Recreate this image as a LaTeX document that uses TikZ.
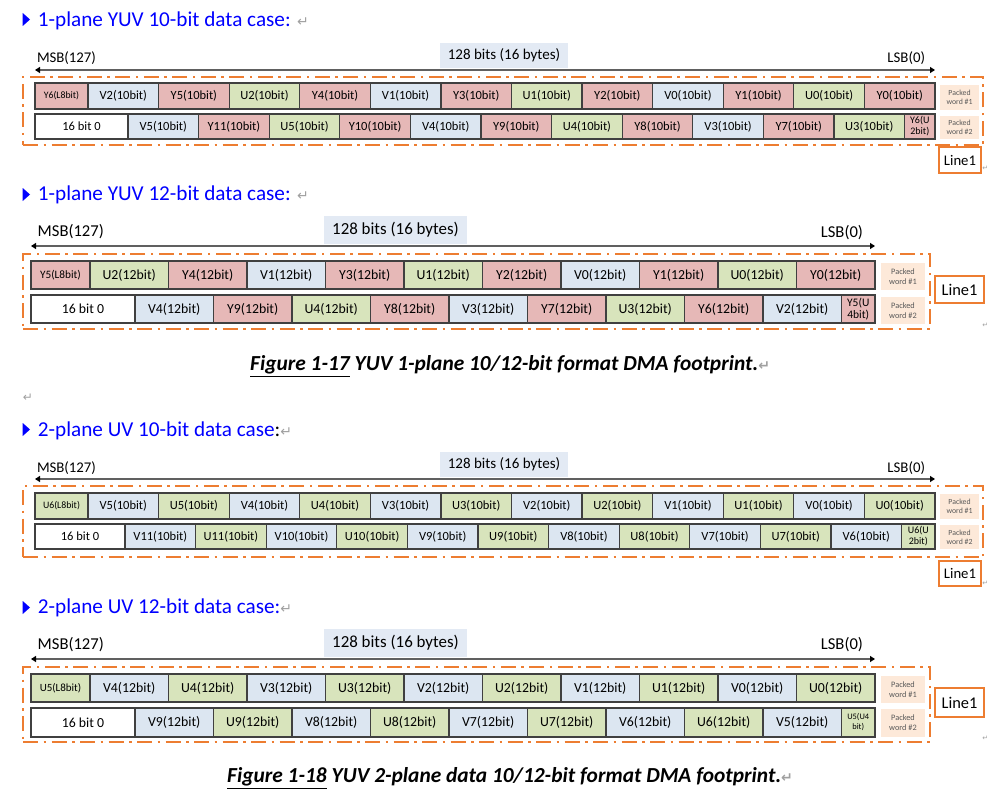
\documentclass[tikz,border=0pt]{standalone}
\usepackage{fontspec}
\setmainfont{Carlito}
\newfontfamily\dejavu{DejaVu Sans}
\usetikzlibrary{arrows.meta}
\definecolor{ypink}{HTML}{E6B8B7}
\definecolor{vblue}{HTML}{DCE6F1}
\definecolor{ugreen}{HTML}{D8E4BC}
\definecolor{peach}{HTML}{FDE9D9}
\definecolor{orng}{HTML}{ED7D31}
\definecolor{bitsbg}{HTML}{E3EAF4}
\definecolor{headblue}{HTML}{0000FF}
\definecolor{cellborder}{HTML}{404040}
\definecolor{arrowgray}{HTML}{606060}
\definecolor{packtext}{HTML}{595959}
\definecolor{retgray}{HTML}{A0A0A0}
\newcommand\retmark[1]{{\dejavu\fontsize{#1}{#1}\selectfont\color{retgray}↵}}
\newcommand\cellat[7]{%
  \pgfmathsetmacro\rkw{#3-(#2)}%
  \pgfmathsetmacro\rkh{#5-(#4)}%
  \node[#6, minimum width=\rkw pt, minimum height=\rkh pt, anchor=north west] (#1) at (#2,#4) {#7};%
}
\newcommand\ucells[7]{%
  \foreach \cc/\lb [count=\ci] in {#7} {%
    \pgfmathsetmacro\rkxa{#2+(\ci-1)*#3}%
    \pgfmathsetmacro\rkxb{#2+\ci*#3}%
    \cellat{#1-\ci}{\rkxa}{\rkxb}{#4}{#5}{cell,#6,fill=\cc}{\lb}%
  }%
}
\tikzset{
  cell/.style={draw=cellborder, line width=1.2pt, inner sep=0pt, outer sep=0pt, text=black, align=center},
  ften/.style={font=\fontsize{12.5}{14}\selectfont},
  ftwelve/.style={font=\fontsize{13.8}{15}\selectfont},
  packed/.style={fill=peach, inner sep=0pt, outer sep=0pt, align=center, text=packtext, font=\fontsize{7.8}{9}\selectfont},
  obox/.style={draw=orng, line width=2.3pt, dash pattern=on 15pt off 5.5pt on 2.5pt off 5.5pt, inner sep=0pt, outer sep=0pt},
  linebox/.style={draw=orng, line width=1.3pt, fill=white, inner sep=0pt, outer sep=0pt, text=black},
  bitsbox/.style={fill=bitsbg, inner sep=0pt, outer sep=0pt, text=black},
  lbl/.style={inner sep=0pt, outer sep=0pt, text=black},
  head/.style={inner sep=0pt, text=headblue, font=\fontsize{21.2}{24}\selectfont},
  capt/.style={inner sep=0pt, text=black, font=\bfseries\itshape\fontsize{21.4}{25}\selectfont},
  bitarrow/.style={draw=arrowgray, line width=1.5pt, {Triangle[length=5pt,width=6pt,color=black]}-{Triangle[length=5pt,width=6pt,color=black]}},
}
\begin{document}
\begin{tikzpicture}[x=1pt,y=-1pt]
\useasboundingbox (0,0) rectangle (988,789);

% ---------------- Section 1 ----------------
\fill[headblue] (22.7,13) -- (30,19.5) -- (22.7,26) -- cycle;
\node[head, anchor=base west] (h1) at (37.7,26.7) {1-plane YUV 10-bit data case: \retmark{14}};
\node[lbl, anchor=base west, font=\fontsize{14.8}{16}\selectfont] (s1msb) at (37,62.7) {MSB(127)};
\node[lbl, anchor=base east, font=\fontsize{14.8}{16}\selectfont] (s1lsb) at (925,62.7) {LSB(0)};
\cellat{s1bits}{440}{568}{43}{68}{bitsbox, font=\fontsize{15}{16}\selectfont}{128 bits (16 bytes)}
\coordinate (s1l) at (35,70); \coordinate (s1r) at (935,70);
\draw[bitarrow] (s1l) -- (s1r);
\cellat{s1box}{23}{983}{77}{145}{obox}{}
\cellat{s1a0}{35}{88}{83}{109}{cell, fill=ypink, font=\fontsize{9.8}{11}\selectfont}{Y6(L8bit)}
\ucells{s1a}{88}{70.5833}{83}{109}{ften}{vblue/V2(10bit), ypink/Y5(10bit), ugreen/U2(10bit), ypink/Y4(10bit), vblue/V1(10bit), ypink/Y3(10bit), ugreen/U1(10bit), ypink/Y2(10bit), vblue/V0(10bit), ypink/Y1(10bit), ugreen/U0(10bit), ypink/Y0(10bit)}
\cellat{s1b0}{35}{128}{114}{139}{cell, fill=white, ften}{16 bit 0}
\ucells{s1b}{128}{70.6}{114}{139}{ften}{vblue/V5(10bit), ypink/Y11(10bit), ugreen/U5(10bit), ypink/Y10(10bit), vblue/V4(10bit), ypink/Y9(10bit), ugreen/U4(10bit), ypink/Y8(10bit), vblue/V3(10bit), ypink/Y7(10bit), ugreen/U3(10bit)}
\cellat{s1bz}{904.6}{935}{114}{139}{cell, fill=ypink, font=\fontsize{10}{11}\selectfont}{Y6(U\\2bit)}
\cellat{s1p1}{940}{979}{85}{110}{packed}{Packed\\word \#1}
\cellat{s1p2}{940}{979}{116}{139}{packed}{Packed\\word \#2}
\cellat{s1line}{939}{981}{147}{173}{linebox, font=\fontsize{14.7}{16}\selectfont}{Line1}
\node[lbl, anchor=base west] (s1ret) at (982.3,171) {\retmark{7}};

% ---------------- Section 2 ----------------
\fill[headblue] (22.7,188) -- (30,194.5) -- (22.7,201) -- cycle;
\node[head, anchor=base west] (h2) at (37.7,200.7) {1-plane YUV 12-bit data case: \retmark{14}};
\node[lbl, anchor=base west, font=\fontsize{16.6}{18}\selectfont] (s2msb) at (37.7,236) {MSB(127)};
\node[lbl, anchor=base east, font=\fontsize{16.6}{18}\selectfont] (s2lsb) at (863,237) {LSB(0)};
\cellat{s2bits}{324}{467}{216}{244}{bitsbox, font=\fontsize{16.9}{18}\selectfont}{128 bits (16 bytes)}
\coordinate (s2l) at (31,246); \coordinate (s2r) at (875,246);
\draw[bitarrow] (s2l) -- (s2r);
\cellat{s2box}{23}{930}{254}{329}{obox}{}
\cellat{s2a0}{31}{90}{261}{289}{cell, fill=ypink, font=\fontsize{11.3}{12}\selectfont}{Y5(L8bit)}
\ucells{s2a}{90}{78.5}{261}{289}{ftwelve}{ugreen/U2(12bit), ypink/Y4(12bit), vblue/V1(12bit), ypink/Y3(12bit), ugreen/U1(12bit), ypink/Y2(12bit), vblue/V0(12bit), ypink/Y1(12bit), ugreen/U0(12bit), ypink/Y0(12bit)}
\cellat{s2b0}{31}{135}{295}{323}{cell, fill=white, ftwelve}{16 bit 0}
\ucells{s2b}{135}{78.5}{295}{323}{ftwelve}{vblue/V4(12bit), ypink/Y9(12bit), ugreen/U4(12bit), ypink/Y8(12bit), vblue/V3(12bit), ypink/Y7(12bit), ugreen/U3(12bit), ypink/Y6(12bit), vblue/V2(12bit)}
\cellat{s2bz}{841.5}{875}{295}{323}{cell, fill=ypink, font=\fontsize{11.5}{12}\selectfont}{Y5(U\\4bit)}
\cellat{s2p1}{881}{925}{263}{290}{packed, font=\fontsize{8.3}{10}\selectfont}{Packed\\word \#1}
\cellat{s2p2}{881}{925}{297}{324}{packed, font=\fontsize{8.3}{10}\selectfont}{Packed\\word \#2}
\cellat{s2line}{935}{984}{276}{303}{linebox, font=\fontsize{16.4}{18}\selectfont}{Line1}
\node[lbl, anchor=base west] (s2ret) at (982.3,327) {\retmark{7}};

\node[capt, anchor=base west] (cap1) at (250,370.7) {\underline{Figure 1-17} YUV 1-plane 10/12-bit format DMA footprint.\retmark{14}};
\node[lbl, anchor=base west] (gapret) at (23,401) {\retmark{12}};

% ---------------- Section 3 ----------------
\fill[headblue] (22.7,423) -- (30,429.5) -- (22.7,436) -- cycle;
\node[head, anchor=base west] (h3) at (37.7,436) {2-plane UV 10-bit data case\textcolor{black}{:}\retmark{14}};
\node[lbl, anchor=base west, font=\fontsize{14.8}{16}\selectfont] (s3msb) at (37,472) {MSB(127)};
\node[lbl, anchor=base east, font=\fontsize{14.8}{16}\selectfont] (s3lsb) at (925,472) {LSB(0)};
\cellat{s3bits}{440}{568}{452}{477}{bitsbox, font=\fontsize{15}{16}\selectfont}{128 bits (16 bytes)}
\coordinate (s3l) at (35,479); \coordinate (s3r) at (935,479);
\draw[bitarrow] (s3l) -- (s3r);
\cellat{s3box}{23}{983}{486}{557}{obox}{}
\cellat{s3a0}{35}{88}{493}{519}{cell, fill=ugreen, font=\fontsize{9.8}{11}\selectfont}{U6(L8bit)}
\ucells{s3a}{88}{70.5833}{493}{519}{ften}{vblue/V5(10bit), ugreen/U5(10bit), vblue/V4(10bit), ugreen/U4(10bit), vblue/V3(10bit), ugreen/U3(10bit), vblue/V2(10bit), ugreen/U2(10bit), vblue/V1(10bit), ugreen/U1(10bit), vblue/V0(10bit), ugreen/U0(10bit)}
\cellat{s3b0}{35}{125}{524}{549}{cell, fill=white, ften}{16 bit 0}
\ucells{s3b}{125}{70.6}{524}{549}{ften}{vblue/V11(10bit), ugreen/U11(10bit), vblue/V10(10bit), ugreen/U10(10bit), vblue/V9(10bit), ugreen/U9(10bit), vblue/V8(10bit), ugreen/U8(10bit), vblue/V7(10bit), ugreen/U7(10bit), vblue/V6(10bit)}
\cellat{s3bz}{901.6}{935}{524}{549}{cell, fill=ugreen, font=\fontsize{10}{11}\selectfont}{U6(U\\2bit)}
\cellat{s3p1}{940}{979}{494}{519}{packed}{Packed\\word \#1}
\cellat{s3p2}{940}{979}{525}{549}{packed}{Packed\\word \#2}
\cellat{s3line}{939}{981}{561}{586}{linebox, font=\fontsize{14.7}{16}\selectfont}{Line1}
\node[lbl, anchor=base west] (s3ret) at (982.3,585) {\retmark{7}};

% ---------------- Section 4 ----------------
\fill[headblue] (22.7,601) -- (30,607.5) -- (22.7,614) -- cycle;
\node[head, anchor=base west] (h4) at (37.7,613.3) {2-plane UV 12-bit data case:\retmark{14}};
\node[lbl, anchor=base west, font=\fontsize{16.6}{18}\selectfont] (s4msb) at (37.7,649) {MSB(127)};
\node[lbl, anchor=base east, font=\fontsize{16.6}{18}\selectfont] (s4lsb) at (863,649) {LSB(0)};
\cellat{s4bits}{324}{467}{629}{657}{bitsbox, font=\fontsize{16.9}{18}\selectfont}{128 bits (16 bytes)}
\coordinate (s4l) at (31,659); \coordinate (s4r) at (875,659);
\draw[bitarrow] (s4l) -- (s4r);
\cellat{s4box}{23}{930}{667}{742}{obox}{}
\cellat{s4a0}{31}{90}{674}{702}{cell, fill=ugreen, font=\fontsize{11}{12}\selectfont}{U5(L8bit)}
\ucells{s4a}{90}{78.5}{674}{702}{ftwelve}{vblue/V4(12bit), ugreen/U4(12bit), vblue/V3(12bit), ugreen/U3(12bit), vblue/V2(12bit), ugreen/U2(12bit), vblue/V1(12bit), ugreen/U1(12bit), vblue/V0(12bit), ugreen/U0(12bit)}
\cellat{s4b0}{31}{135}{708}{737}{cell, fill=white, ftwelve}{16 bit 0}
\ucells{s4b}{135}{78.5}{708}{737}{ftwelve}{vblue/V9(12bit), ugreen/U9(12bit), vblue/V8(12bit), ugreen/U8(12bit), vblue/V7(12bit), ugreen/U7(12bit), vblue/V6(12bit), ugreen/U6(12bit), vblue/V5(12bit)}
\cellat{s4bz}{841.5}{875}{708}{737}{cell, fill=ugreen, font=\fontsize{8.4}{10}\selectfont}{U5(U4\\bit)}
\cellat{s4p1}{881}{925}{676}{703}{packed, font=\fontsize{8.3}{10}\selectfont}{Packed\\word \#1}
\cellat{s4p2}{881}{925}{709}{737}{packed, font=\fontsize{8.3}{10}\selectfont}{Packed\\word \#2}
\cellat{s4line}{935}{984}{688}{717}{linebox, font=\fontsize{16.4}{18}\selectfont}{Line1}
\node[lbl, anchor=base west] (s4ret) at (982.3,740) {\retmark{7}};

\node[capt, anchor=base west] (cap2) at (227,782.7) {\underline{Figure 1-18} YUV 2-plane data 10/12-bit format DMA footprint.\retmark{14}};
\end{tikzpicture}
\end{document}
